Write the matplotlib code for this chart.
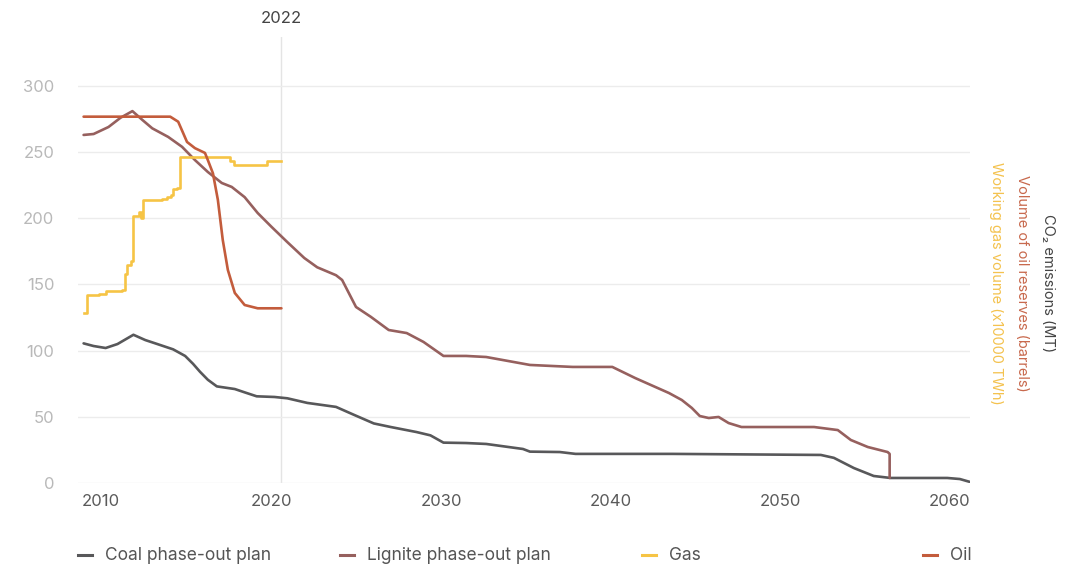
import matplotlib
matplotlib.use("Agg")
import matplotlib.pyplot as plt
from matplotlib.lines import Line2D
from matplotlib.transforms import ScaledTranslation

plt.rcParams['font.family'] = ['Inter', 'DejaVu Sans']

# ---- data -------------------------------------------------------------
coal_years = [2010.33, 2010.92, 2011.63, 2012.33, 2013.27, 2013.97, 2014.56, 2015.61,
              2016.32, 2016.79, 2017.2, 2017.66, 2018.19, 2019.25, 2019.83, 2020.54,
              2021.59, 2022.35, 2023.53, 2025.22, 2026.28, 2027.45, 2028.45, 2029.97,
              2030.79, 2031.56, 2032.9, 2034.08, 2036.25, 2036.66, 2038.42, 2039.35,
              2045.04, 2053.82, 2054.59, 2055.77, 2056.94, 2057.93, 2061.28, 2062.02, 2062.62]
coal_values = [105.5, 103.5, 102, 105, 112, 108, 105.5, 101,
               96, 90, 84, 78, 73, 71, 68.5, 65.5,
               65, 64, 60.5, 57.5, 51.5, 45, 42.3, 38.5,
               36, 30.5, 30.2, 29.5, 25.7, 23.7, 23.4, 22,
               22, 21.2, 19, 11.3, 5.3, 3.8, 3.8, 3, 0.8]

lignite_years = [2010.33, 2010.92, 2011.8, 2012.51, 2013.21, 2013.8, 2014.38, 2015.32,
                 2016.14, 2016.9, 2017.66, 2018.48, 2019.07, 2019.83, 2020.6, 2021.42,
                 2022.35, 2023.35, 2024.11, 2025.22, 2025.58, 2026.4, 2027.28, 2028.33,
                 2029.39, 2030.38, 2031.56, 2032.9, 2034.08, 2036.66, 2039.18, 2041.52,
                 2042.87, 2044.86, 2045.62, 2046.21, 2046.68, 2047.21, 2047.79, 2048.38,
                 2049.14, 2053.42, 2054.82, 2055.59, 2056.59, 2057.76, 2057.88, 2057.88]
lignite_values = [263, 263.7, 269, 276, 281, 274.3, 268, 261.5,
                  254, 244, 235, 226.7, 223.7, 216, 204, 193.5,
                  182, 170, 163, 157, 153.4, 133, 125.5, 115.6,
                  113.3, 106.6, 96, 96, 95.2, 89.2, 87.7, 87.7,
                  79.3, 68, 62.7, 56.7, 50.6, 49.1, 49.9, 45.3,
                  42.3, 42.3, 40, 32.5, 27.2, 23.4, 22, 3.8]

gas_years = [2010.33, 2010.51, 2011.22, 2011.63, 2012.62, 2012.78, 2012.92, 2013.15,
             2013.27, 2013.62, 2013.74, 2013.84, 2014.97, 2015.26, 2015.5, 2015.61,
             2015.85, 2016.01, 2018.95, 2019.19, 2021.12, 2022.0]
gas_values = [128.5, 142, 142.5, 145, 146, 158, 165, 168,
              202, 204.5, 200, 214, 214.5, 216, 217.5, 222,
              223, 246, 243, 240, 243, 243]

oil_years = [2010.33, 2015.44, 2015.91, 2016.2, 2016.43, 2016.9, 2017.49, 2017.66,
             2017.96, 2018.25, 2018.54, 2018.84, 2019.25, 2019.83, 2020.6, 2022.0]
oil_values = [276.8, 276.8, 273, 264.5, 257.7, 253, 249.4, 244,
              234, 214, 183.6, 161, 143.6, 134.5, 132, 132]

x_ticks = [2010, 2020, 2030, 2040, 2050, 2060]
y_ticks = [0, 50, 100, 150, 200, 250, 300]
marker_year = 2022

series_labels = ["Coal phase-out plan", "Lignite phase-out plan", "Gas", "Oil"]

# ---- style ------------------------------------------------------------
C_COAL = "#58585a"
C_LIGNITE = "#96605e"
C_GAS = "#f6c445"
C_OIL = "#c35c3c"
GRID = "#ececec"

W, H = 1084, 570
fig = plt.figure(figsize=(W / 100, H / 100), dpi=100)
ax = fig.add_axes([78 / W, 1 - 483 / H, (970 - 78) / W, (483 - 37) / H])

lw = 1.9
ax.plot(coal_years, coal_values, color=C_COAL, lw=lw, solid_capstyle="round", zorder=3)
ax.plot(lignite_years, lignite_values, color=C_LIGNITE, lw=lw, solid_capstyle="round", zorder=3)
ax.plot(gas_years, gas_values, color=C_GAS, lw=lw, drawstyle="steps-post", zorder=4)
ax.plot(oil_years, oil_values, color=C_OIL, lw=lw, solid_capstyle="round", zorder=5)

ax.set_xlim(2010.33, 2062.62)
ax.set_ylim(0, 337)

for s in ax.spines.values():
    s.set_visible(False)

ax.set_yticks(y_ticks)
ax.set_xticks(x_ticks)
ax.grid(axis="y", color=GRID, lw=1.0, zorder=0)
ax.tick_params(axis="both", length=0)
ax.tick_params(axis="y", pad=17, labelsize=12, labelcolor="#b9b9b9")
ax.tick_params(axis="x", pad=8, labelsize=12, labelcolor="#5a5a5a")
shift = ScaledTranslation(3.5 / 100, 0, fig.dpi_scale_trans)
for lab in ax.get_xticklabels():
    lab.set_horizontalalignment("left")
    lab.set_transform(lab.get_transform() + shift)

# reference year marker
ax.axvline(marker_year, color="#e4e4e4", lw=1.0, zorder=1)
ax.text(marker_year, 1.025, str(marker_year), transform=ax.get_xaxis_transform(),
        ha="center", va="bottom", fontsize=12, color="#444444", clip_on=False)

# stacked axis titles on the right
yc = 1 - 283 / H
fig.text(1048 / W, yc, "CO\u2082 emissions (MT)", rotation=-90, ha="center", va="center",
         fontsize=10.5, color="#444444")
fig.text(1022 / W, yc, "Volume of oil reserves (barrels)", rotation=-90, ha="center",
         va="center", fontsize=10.5, color="#c8694d")
fig.text(996 / W, yc, "Working gas volume (x10000 TWh)", rotation=-90, ha="center",
         va="center", fontsize=10.5, color="#f4c24e")

# legend row
legend_y = 1 - 555 / H
legend_items = [
    (78, series_labels[0], C_COAL),
    (340, series_labels[1], C_LIGNITE),
    (642, series_labels[2], C_GAS),
    (923, series_labels[3], C_OIL),
]
for x0, label, col in legend_items:
    fig.add_artist(Line2D([x0 / W, (x0 + 14) / W], [legend_y, legend_y],
                          transform=fig.transFigure, color=col, lw=2.2))
    fig.text((x0 + 27) / W, legend_y, label, ha="left", va="center",
             fontsize=12.5, color="#555555")

fig.savefig("out.png", dpi=100, facecolor="white")
